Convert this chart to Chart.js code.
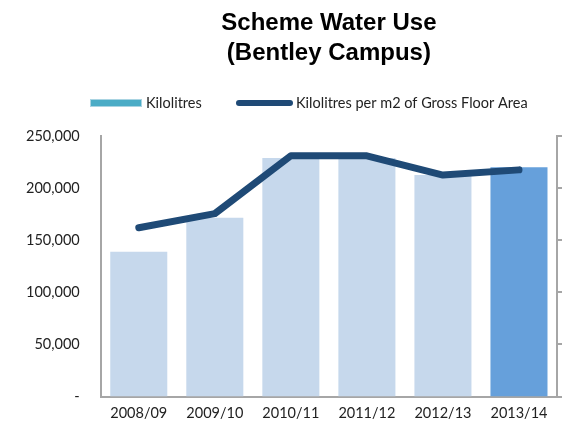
<!DOCTYPE html>
<html>
<head>
<meta charset="utf-8">
<script src="https://cdn.jsdelivr.net/npm/chart.js@4"></script>
<style>
html,body{margin:0;padding:0;background:#fff;}
#wrap{width:572px;height:422px;position:relative;}
</style>
</head>
<body>
<div id="wrap"><canvas id="c" width="572" height="422"></canvas></div>
<script>
const categories = ['2008/09','2009/10','2010/11','2011/12','2012/13','2013/14'];
const kilolitres = [139000, 171500, 229000, 229000, 212500, 220000];
const perM2 = [3.24, 3.51, 4.62, 4.62, 4.25, 4.35];
const leftTicks = [0, 50000, 100000, 150000, 200000, 250000];
const titleLines = ['Scheme Water Use', '(Bentley Campus)'];
const seriesNames = ['Kilolitres', 'Kilolitres per m2 of Gross Floor Area'];

const barColors = categories.map((c,i)=> i === categories.length-1 ? '#66a0db' : '#c6d8ec');
const lineColor = '#1f4a76';
const axisColor = '#a6a6a6';
const labelFont = {family:'Lato, "Open Sans", sans-serif', size:14.5};

const legendPlugin = {
  id:'customLegend',
  afterDraw(chart){
    const ctx = chart.ctx;
    ctx.save();
    const y = 103;
    ctx.fillStyle = '#4bacc6';
    ctx.fillRect(90, 99, 52, 8);
    ctx.strokeStyle = '#a9d4e2';
    ctx.lineWidth = 1;
    ctx.strokeRect(90.5, 99.5, 51, 7);
    ctx.font = '14.5px Lato, "Open Sans", sans-serif';
    ctx.fillStyle = '#222';
    ctx.textBaseline = 'middle';
    ctx.textAlign = 'left';
    ctx.fillText(chart.data.datasets[0].label, 146, y);
    ctx.strokeStyle = chart.data.datasets[1].borderColor;
    ctx.lineWidth = 6;
    ctx.lineCap = 'round';
    ctx.beginPath();
    ctx.moveTo(239, y);
    ctx.lineTo(290, y);
    ctx.stroke();
    ctx.fillText(chart.data.datasets[1].label, 296, y);
    ctx.restore();
  }
};

new Chart(document.getElementById('c'), {
  type: 'bar',
  data: {
    labels: categories,
    datasets: [
      {
        type:'bar',
        label: seriesNames[0],
        data: kilolitres,
        backgroundColor: barColors,
        borderWidth: 0,
        categoryPercentage: 1,
        barPercentage: 0.75,
        yAxisID: 'y',
        order: 1
      },
      {
        type:'line',
        label: seriesNames[1],
        data: perM2,
        borderColor: lineColor,
        backgroundColor: lineColor,
        borderWidth: 7,
        pointRadius: 0,
        tension: 0,
        borderCapStyle: 'round',
        borderJoinStyle: 'round',
        yAxisID: 'y2',
        order: 0
      }
    ]
  },
  options: {
    responsive: false,
    animation: false,
    devicePixelRatio: 1,
    layout: { padding: { left: 13, right: 10, top: 4, bottom: 0 } },
    plugins: {
      legend: { display: false },
      tooltip: { enabled: false },
      title: {
        display: true,
        text: titleLines,
        fullSize: false,
        color: '#000',
        font: { family: '"Liberation Sans", Arial, sans-serif', size: 24, weight: 'bold', lineHeight: 1.25 },
        padding: { top: 4, bottom: 68 }
      }
    },
    scales: {
      x: {
        offset: true,
        grid: { display: false },
        border: { display: true, color: axisColor, width: 2 },
        ticks: { color: '#222', font: labelFont, padding: 0, maxRotation: 0 }
      },
      y: {
        position: 'left',
        min: 0, max: 250000,
        afterBuildTicks(scale){ scale.ticks = leftTicks.map(v=>({value:v})); },
        grid: { display: false },
        border: { display: true, color: axisColor, width: 2 },
        ticks: {
          color: '#222', font: labelFont, padding: 13,
          callback: v => v === 0 ? '-' : v.toLocaleString('en-US')
        }
      },
      y2: {
        position: 'right',
        min: 0, max: 5,
        ticks: { stepSize: 1, callback: () => '', padding: 0 },
        grid: { display: true, drawOnChartArea: false, drawTicks: true, tickLength: 5, color: axisColor, lineWidth: 2 },
        border: { display: true, color: axisColor, width: 2 }
      }
    }
  },
  plugins: [legendPlugin]
});
</script>
</body>
</html>
